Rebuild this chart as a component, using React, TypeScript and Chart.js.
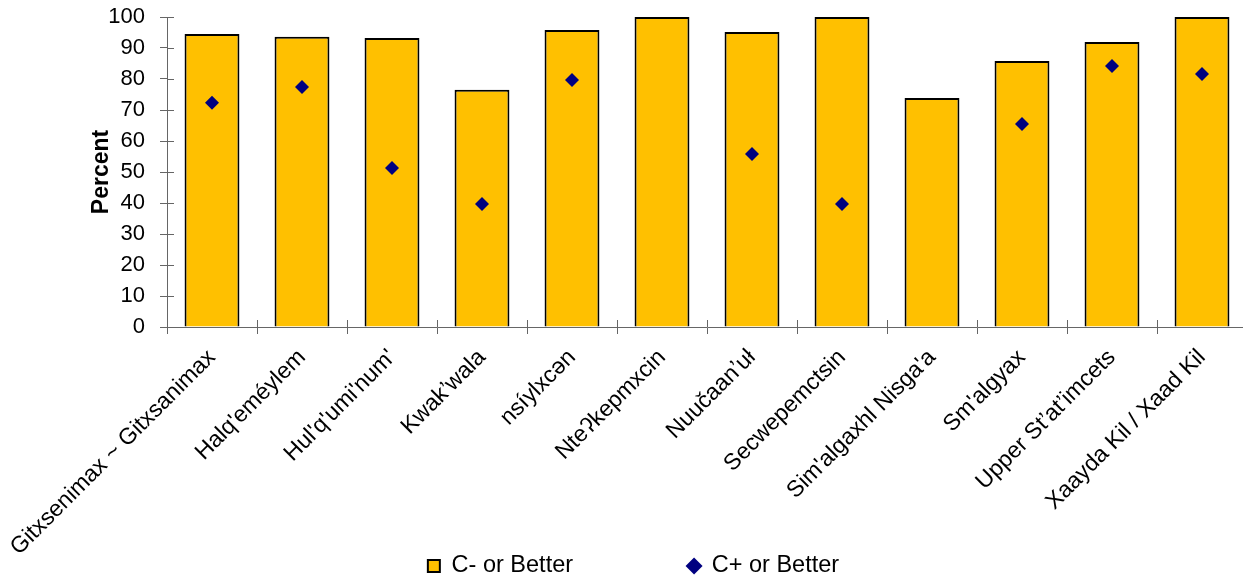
import React, { useEffect, useRef } from "react";
import { Chart, registerables } from "chart.js";

Chart.register(...registerables);

const categories = [
  "Gitxsenimax ~ Gitxsanimax",
  "Halq'eméylem",
  "Hul'q'umi'num'",
  "Kwak’wala",
  "nsíylxcən",
  "Nteʔkepmxcin",
  "Nuučaanʼuł",
  "Secwepemctsin",
  "Sim'algaxhl Nisga'a",
  "Sm'algyax",
  "Upper St’at’imcets",
  "Xaayda Kil / Xaad Kil",
];

const cMinusOrBetter = [94.5, 93.6, 93.2, 76.5, 95.8, 100, 95.2, 100, 73.9, 85.8, 91.9, 100];
const cPlusOrBetter: (number | null)[] = [72.3, 77.4, 51.3, 39.7, 79.7, null, 55.8, 39.7, null, 65.5, 84.2, 81.6];

const yTicks = [0, 10, 20, 30, 40, 50, 60, 70, 80, 90, 100];

const FONT = "'Liberation Sans', Arial, sans-serif";
const AXIS = "#666666";
const LEGEND_PAD = 115;
const LEGEND_FONT = 23.5;

const crossTicks = {
  id: "crossTicks",
  afterLayout(chart: any) {
    const lg = chart.legend;
    if (lg) {
      lg.top = 566 - LEGEND_FONT / 2 - LEGEND_PAD;
      lg.bottom = chart.height;
      lg.left += 10;
      lg.right += 10;
    }
  },
  afterDraw(chart: any) {
    const { ctx } = chart;
    const x = chart.scales.x;
    const y = chart.scales.y;
    ctx.save();
    ctx.strokeStyle = AXIS;
    ctx.lineWidth = 1;
    ctx.beginPath();
    y.ticks.forEach((_t: any, i: number) => {
      const py = Math.round(y.getPixelForTick(i)) + 0.5;
      ctx.moveTo(y.right, py);
      ctx.lineTo(y.right + 7, py);
    });
    const n = categories.length;
    const half = (x.getPixelForValue(1) - x.getPixelForValue(0)) / 2;
    for (let i = 0; i <= n; i++) {
      const px = Math.round(x.getPixelForValue(i) - half) + 0.5;
      ctx.moveTo(px, x.top);
      ctx.lineTo(px, x.top - 7);
    }
    ctx.stroke();
    ctx.restore();
  },
};

export default function App() {
  const ref = useRef<HTMLCanvasElement>(null);
  useEffect(() => {
    if (!ref.current) return;
    const chart = new Chart(ref.current, {
      type: "bar",
      data: {
        labels: categories,
        datasets: [
          {
            type: "bar",
            label: "C- or Better",
            data: cMinusOrBetter,
            backgroundColor: "#FFC000",
            borderColor: "#000000",
            borderWidth: 2,
            categoryPercentage: 1,
            barPercentage: 0.61,
            pointStyle: "rect",
            order: 1,
          } as any,
          {
            type: "line",
            label: "C+ or Better",
            data: cPlusOrBetter,
            showLine: false,
            pointStyle: "rectRot",
            pointRadius: 7,
            pointBackgroundColor: "#000080",
            pointBorderColor: "#000080",
            backgroundColor: "#000080",
            borderColor: "#000080",
            borderWidth: 0,
            order: 0,
          } as any,
        ],
      },
      options: {
        animation: false,
        responsive: true,
        maintainAspectRatio: false,
        layout: { padding: { left: 0, right: 13, top: 0, bottom: 0 } },
        plugins: {
          tooltip: { enabled: false },
          legend: {
            position: "bottom",
            reverse: true,
            maxHeight: 10,
            labels: {
              usePointStyle: true,
              boxWidth: 12,
              boxHeight: 12,
              padding: LEGEND_PAD,
              color: "#000",
              font: { family: FONT, size: LEGEND_FONT },
            },
          } as any,
        },
        scales: {
          x: {
            grid: { display: true, drawOnChartArea: false, offset: true, tickLength: 7, color: AXIS },
            border: { color: AXIS },
            ticks: {
              autoSkip: false,
              minRotation: 45,
              maxRotation: 45,
              padding: 10,
              color: "#000",
              font: { family: FONT, size: 23 },
            },
            afterFit: (s: any) => {
              s.height = 240;
              s.paddingLeft = 0;
              s.paddingRight = 0;
            },
          },
          y: {
            min: 0,
            max: 100,
            afterBuildTicks: (s: any) => {
              s.ticks = yTicks.map((v) => ({ value: v }));
            },
            grid: { display: true, drawOnChartArea: false, tickLength: 7, color: AXIS },
            border: { color: AXIS },
            ticks: { color: "#000", padding: 15, font: { family: FONT, size: 22 } },
            title: {
              display: true,
              text: "Percent",
              color: "#000",
              font: { family: FONT, size: 23, weight: "bold" },
              padding: { top: 88, bottom: 0 },
            },
            afterFit: (s: any) => {
              s.width = 167;
              s.paddingTop = 17;
              s.paddingBottom = 0;
            },
          },
        },
      },
      plugins: [crossTicks],
    });
    return () => chart.destroy();
  }, []);
  return (
    <div style={{ position: "fixed", left: 0, top: 0, width: 1260, height: 577 }}>
      <canvas ref={ref} />
    </div>
  );
}
